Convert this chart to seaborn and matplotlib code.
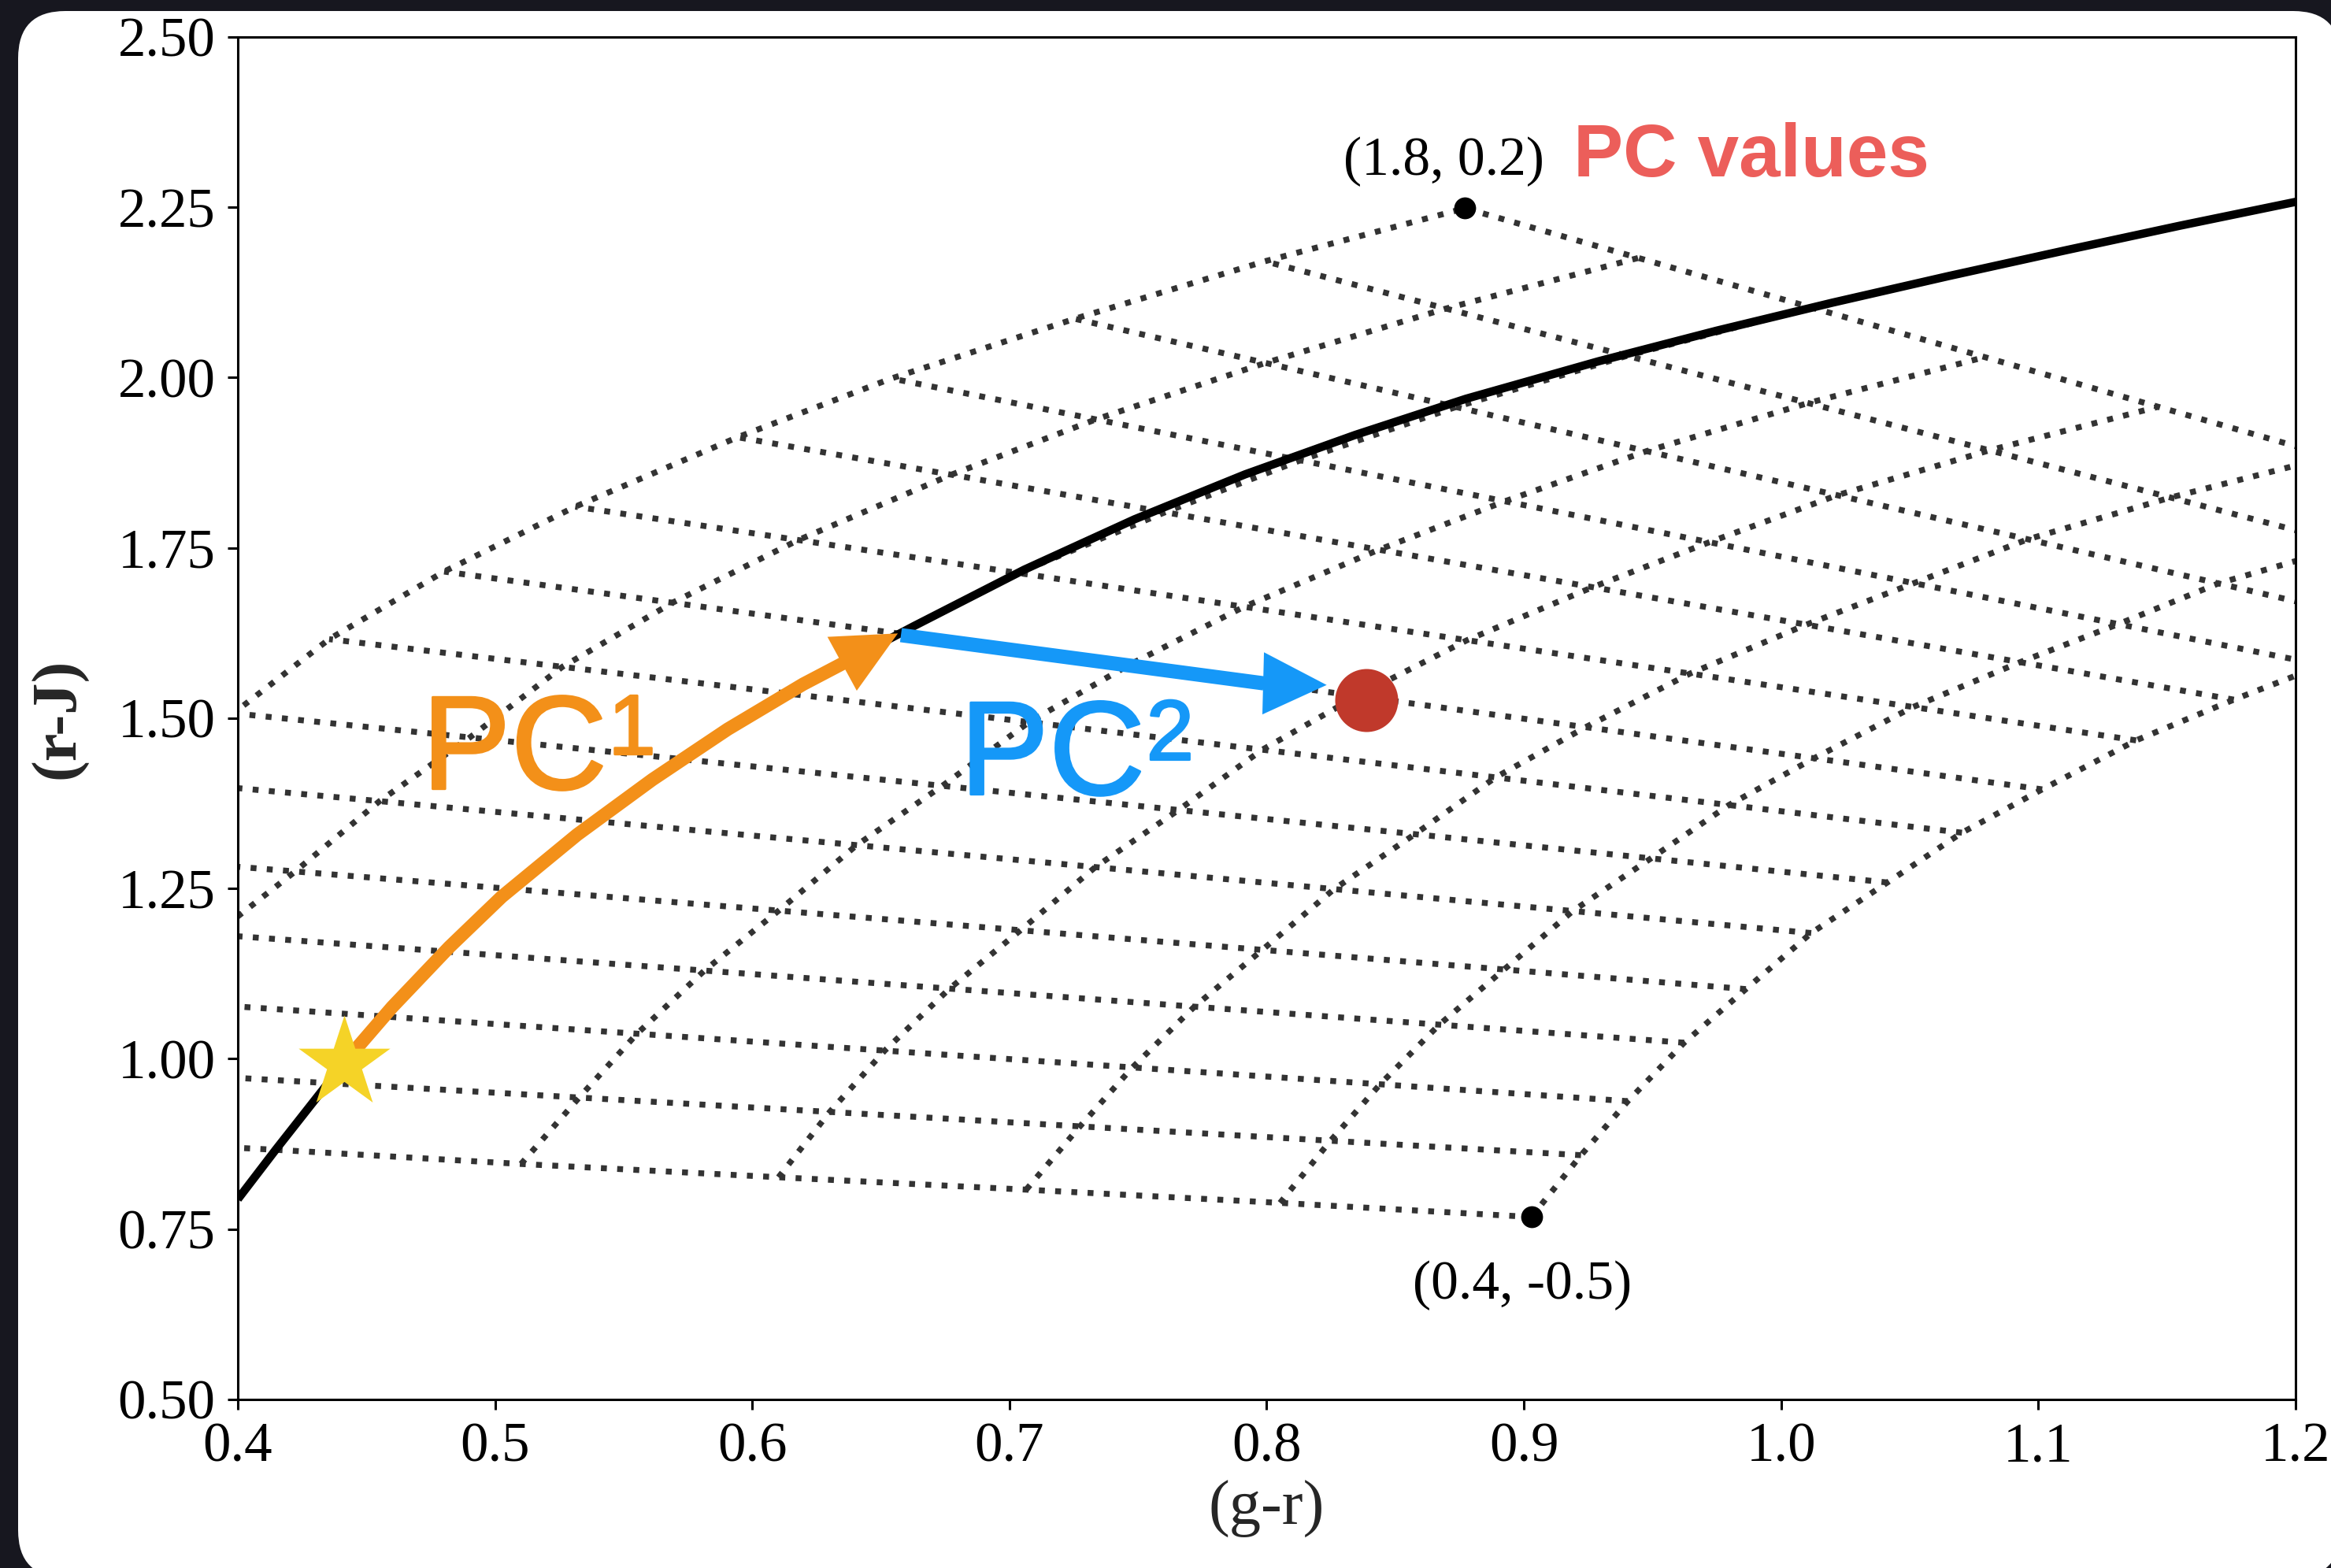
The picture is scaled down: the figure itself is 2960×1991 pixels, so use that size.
import numpy as np
import pandas as pd
import matplotlib
matplotlib.use("Agg")
import matplotlib.pyplot as plt
import matplotlib.patheffects as pe
import seaborn as sns
from matplotlib.patches import FancyBboxPatch
from matplotlib.transforms import IdentityTransform

# ---------------- data ----------------
pc1_levels = [0.4, 0.5, 0.6, 0.7, 0.8, 0.9, 1.0, 1.1, 1.2, 1.3, 1.4, 1.5, 1.6, 1.7, 1.8]
pc2_levels = [-0.5, -0.4, -0.3, -0.2, -0.1, 0.0, 0.1, 0.2]

# node positions (g-r) of the PC grid: one row per PC1 level, columns follow pc2_levels
grid_x = [
    [0.9029, 0.8052, 0.7065, 0.6102, 0.5101, 0.4147, 0.3160, 0.2180],
    [0.9222, 0.8248, 0.7274, 0.6301, 0.5327, 0.4351, 0.3380, 0.2406],
    [0.9404, 0.8441, 0.7478, 0.6515, 0.5552, 0.4569, 0.3626, 0.2663],
    [0.9623, 0.8671, 0.7719, 0.6767, 0.5814, 0.4806, 0.3910, 0.2957],
    [0.9863, 0.8923, 0.7983, 0.7043, 0.6103, 0.5063, 0.4223, 0.3283],
    [1.0117, 0.9190, 0.8262, 0.7334, 0.6406, 0.5392, 0.4551, 0.3623],
    [1.0413, 0.9494, 0.8576, 0.7657, 0.6739, 0.5730, 0.4902, 0.3983],
    [1.0703, 0.9797, 0.8890, 0.7983, 0.7076, 0.6137, 0.5262, 0.4355],
    [1.1015, 1.0128, 0.9240, 0.8352, 0.7465, 0.6573, 0.5690, 0.4802],
    [1.1380, 1.0513, 0.9646, 0.8779, 0.7912, 0.7033, 0.6179, 0.5312],
    [1.1760, 1.0929, 1.0098, 0.9267, 0.8436, 0.7605, 0.6774, 0.5943],
    [1.2106, 1.1311, 1.0516, 0.9721, 0.8926, 0.8131, 0.7336, 0.6541],
    [1.2441, 1.1700, 1.0959, 1.0218, 0.9477, 0.8736, 0.7995, 0.7254],
    [1.2922, 1.2218, 1.1514, 1.0810, 1.0105, 0.9401, 0.8697, 0.7993],
    [1.3486, 1.2813, 1.2139, 1.1466, 1.0792, 1.0118, 0.9445, 0.8771],
]
# node positions (r-J)
grid_y = [
    [0.7679, 0.7886, 0.8080, 0.8262, 0.8457, 0.8665, 0.8860, 0.9050],
    [0.8586, 0.8798, 0.9009, 0.9221, 0.9432, 0.9644, 0.9855, 1.0067],
    [0.9379, 0.9627, 0.9874, 1.0121, 1.0369, 1.0622, 1.0864, 1.1111],
    [1.0237, 1.0502, 1.0766, 1.1031, 1.1296, 1.1576, 1.1825, 1.2090],
    [1.1024, 1.1312, 1.1600, 1.1888, 1.2176, 1.2494, 1.2751, 1.3039],
    [1.1847, 1.2170, 1.2492, 1.2815, 1.3137, 1.3489, 1.3783, 1.4105],
    [1.2589, 1.2943, 1.3298, 1.3653, 1.4008, 1.4398, 1.4718, 1.5073],
    [1.3320, 1.3726, 1.4132, 1.4538, 1.4943, 1.5363, 1.5755, 1.6161],
    [1.3956, 1.4413, 1.4869, 1.5326, 1.5783, 1.6242, 1.6696, 1.7153],
    [1.4675, 1.5165, 1.5656, 1.6146, 1.6636, 1.7133, 1.7616, 1.8106],
    [1.5273, 1.5823, 1.6374, 1.6924, 1.7474, 1.8024, 1.8575, 1.9125],
    [1.5780, 1.6382, 1.6983, 1.7584, 1.8185, 1.8786, 1.9387, 1.9988],
    [1.6332, 1.6979, 1.7627, 1.8274, 1.8921, 1.9569, 2.0216, 2.0864],
    [1.6852, 1.7546, 1.8240, 1.8933, 1.9627, 2.0320, 2.1014, 2.1708],
    [1.7387, 1.8116, 1.8844, 1.9572, 2.0301, 2.1029, 2.1757, 2.2486],
]

# stellar locus (solid black curve)
locus_x = [0.400, 0.4147, 0.4413, 0.4600, 0.4822, 0.5026, 0.5319, 0.5612, 0.5905, 0.6198,
           0.6627, 0.7057, 0.7486, 0.7916, 0.8345, 0.8775, 0.929, 0.975, 1.0199, 1.065,
           1.1107, 1.155, 1.200]
locus_y = [0.794, 0.8665, 0.9942, 1.0760, 1.1640, 1.2380, 1.3290, 1.4100, 1.4840, 1.5500,
           1.6350, 1.7180, 1.7920, 1.8580, 1.9160, 1.9690, 2.0240, 2.0690, 2.1100, 2.1490,
           2.1870, 2.2230, 2.2580]

# PC1 arrow (orange) shaft along the locus, and its head
pc1_arc_x = [0.4413, 0.4600, 0.4822, 0.5026, 0.5319, 0.5612, 0.5905, 0.6198, 0.6400]
pc1_arc_y = [0.9942, 1.0760, 1.1640, 1.2380, 1.3290, 1.4100, 1.4840, 1.5500, 1.5900]
pc1_head_base = (0.6348, 1.5797)
pc1_tip = (0.6566, 1.6245)

# PC2 arrow (blue)
pc2_start = (0.6578, 1.622)
pc2_head_base = (0.7989, 1.5512)
pc2_tip = (0.8233, 1.5488)

star_xy = (0.4413, 0.9942)
target_xy = (0.8386, 1.527)

corner_labels = ["(1.8, 0.2)", "(0.4, -0.5)"]
corner_label_xy = [(0.8297, 2.298), (0.8567, 0.6476)]

x_ticks = [0.4, 0.5, 0.6, 0.7, 0.8, 0.9, 1.0, 1.1, 1.2]
y_ticks = [0.50, 0.75, 1.00, 1.25, 1.50, 1.75, 2.00, 2.25, 2.50]

# ---------------- style ----------------
ORANGE = "#F39019"
BLUE = "#1598F8"
RED_TXT = "#EC5E5A"
RED_DOT = "#C0392B"
STAR = "#F5D327"
GRID = "#333333"
SANS = ["Liberation Sans", "DejaVu Sans"]

sns.set_style("ticks")
plt.rcParams["font.family"] = ["Liberation Serif", "DejaVu Serif"]
plt.rcParams["axes.edgecolor"] = "black"

fig = plt.figure(figsize=(14.8, 9.955), dpi=200)
fig.patch.set_facecolor("#17171f")
panel = FancyBboxPatch((23, -12), 2949, 1989,
                       boxstyle="round,pad=0,rounding_size=60",
                       transform=IdentityTransform(), facecolor="white",
                       edgecolor="none", zorder=-5)
fig.add_artist(panel)

ax = fig.add_axes([0.102027, 0.107484, 0.882770, 0.868910])
ax.set_facecolor("white")

dot_style = dict(color=GRID, lw=2.7, linestyle=(0, (1, 1.75)),
                 dash_capstyle="butt", sort=False, estimator=None,
                 legend=False, ax=ax, zorder=2)

# lines of constant PC1
for i in range(len(pc1_levels)):
    sns.lineplot(x=grid_x[i], y=grid_y[i], **dot_style)
# lines of constant PC2
for j in range(len(pc2_levels)):
    sns.lineplot(x=[row[j] for row in grid_x], y=[row[j] for row in grid_y], **dot_style)

# locus
sns.lineplot(x=locus_x, y=locus_y, color="black", lw=3.8, sort=False,
             estimator=None, legend=False, ax=ax, zorder=3,
             solid_capstyle="butt", solid_joinstyle="round")

# PC1 arrow shaft
sns.lineplot(x=pc1_arc_x, y=pc1_arc_y, color=ORANGE, lw=6.1, sort=False,
             estimator=None, legend=False, ax=ax, zorder=4,
             solid_capstyle="butt", solid_joinstyle="round")
ax.annotate("", xy=pc1_tip, xytext=pc1_head_base,
            arrowprops=dict(arrowstyle="-|>,head_length=29,head_width=14",
                            color=ORANGE, lw=0.01, shrinkA=0, shrinkB=0,
                            mutation_scale=1), zorder=5)

# PC2 arrow
sns.lineplot(x=[pc2_start[0], pc2_head_base[0]], y=[pc2_start[1], pc2_head_base[1]],
             color=BLUE, lw=6.5, sort=False, estimator=None, legend=False,
             ax=ax, zorder=5, solid_capstyle="butt")
ax.annotate("", xy=pc2_tip, xytext=pc2_head_base,
            arrowprops=dict(arrowstyle="-|>,head_length=29,head_width=14.2",
                            color=BLUE, lw=0.01, shrinkA=0, shrinkB=0,
                            mutation_scale=1), zorder=5)

# markers
sns.scatterplot(x=[star_xy[0]], y=[star_xy[1]], marker="*", s=44 ** 2,
                color=STAR, linewidth=0, ax=ax, zorder=6, legend=False)
sns.scatterplot(x=[target_xy[0]], y=[target_xy[1]], marker="o", s=28.8 ** 2,
                color=RED_DOT, linewidth=0, ax=ax, zorder=6, legend=False)
sns.scatterplot(x=[grid_x[-1][-1], grid_x[0][0]], y=[grid_y[-1][-1], grid_y[0][0]],
                marker="o", s=10 ** 2, color="black", linewidth=0, ax=ax,
                zorder=6, legend=False)

# texts
for lab, (tx, ty) in zip(corner_labels, corner_label_xy):
    ax.text(tx, ty, lab, fontsize=25, ha="left", va="baseline", color="black", zorder=7)

ax.text(0.9192, 2.2954, "PC values", fontsize=34, fontweight="bold",
        family=SANS, color=RED_TXT, ha="left", va="baseline", zorder=7)

thick = lambda c: [pe.withStroke(linewidth=1.0, foreground=c)]
t1 = ax.text(0.4715, 1.3962, "PC", fontsize=61, family=SANS, color=ORANGE,
             ha="left", va="baseline", zorder=7, path_effects=thick(ORANGE))
ax.annotate("1", xy=(1, 1), xycoords=t1, xytext=(0.5, 0), textcoords="offset points",
            fontsize=39, family=SANS, color=ORANGE, ha="left", va="top",
            zorder=7, path_effects=thick(ORANGE))
t2 = ax.text(0.6807, 1.3882, "PC", fontsize=61, family=SANS, color=BLUE,
             ha="left", va="baseline", zorder=7, path_effects=thick(BLUE))
ax.annotate("2", xy=(1, 1), xycoords=t2, xytext=(0.5, 0), textcoords="offset points",
            fontsize=39, family=SANS, color=BLUE, ha="left", va="top",
            zorder=7, path_effects=thick(BLUE))

# axes
ax.set_xlim(0.4, 1.2)
ax.set_ylim(0.5, 2.5)
ax.set_xticks(x_ticks)
ax.set_yticks(y_ticks)
ax.set_xticklabels([f"{v:.1f}" for v in x_ticks])
ax.set_yticklabels([f"{v:.2f}" for v in y_ticks])
for s in ax.spines.values():
    s.set_visible(True)
    s.set_linewidth(1.1)
    s.set_color("black")
ax.tick_params(direction="out", length=4.8, width=1.1, labelsize=25.5,
               pad=5.5, colors="black")
ax.set_xlabel("(g-r)", fontsize=29)
ax.set_ylabel("(r-J)", fontsize=29, fontweight="bold")
ax.xaxis.set_label_coords(0.5, -0.0595)
ax.yaxis.set_label_coords(-0.073, 0.5)

fig.savefig("out.png", dpi=200, facecolor=fig.get_facecolor())
